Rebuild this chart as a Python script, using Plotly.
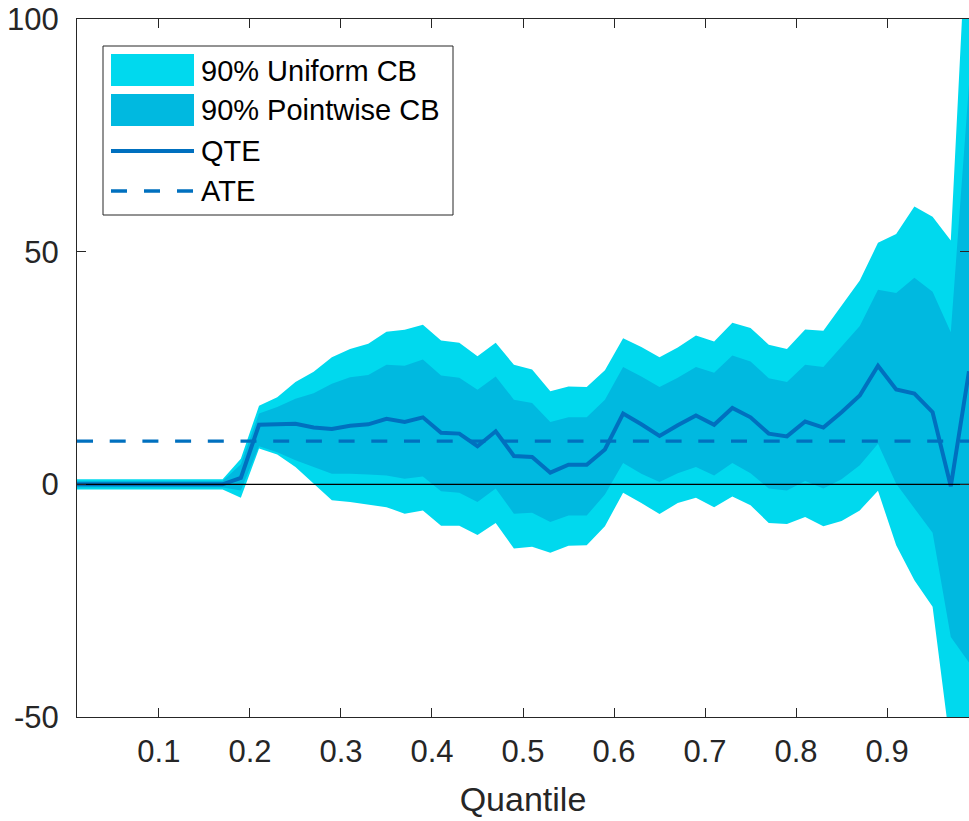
import plotly.graph_objects as go

# Quantile grid
quantiles = [0.01, 0.03, 0.05, 0.07, 0.09, 0.11, 0.13, 0.15, 0.17, 0.19,
             0.21, 0.23, 0.25, 0.27, 0.29, 0.31, 0.33, 0.35, 0.37, 0.39,
             0.41, 0.43, 0.45, 0.47, 0.49, 0.51, 0.53, 0.55, 0.57, 0.59,
             0.61, 0.63, 0.65, 0.67, 0.69, 0.71, 0.73, 0.75, 0.77, 0.79,
             0.81, 0.83, 0.85, 0.87, 0.89, 0.91, 0.93, 0.95, 0.97, 0.99]

# Quantile treatment effect estimates
qte = [0, 0, 0, 0, 0, 0, 0, 0, 0, 1.4,
       12.8, 12.9, 13.0, 12.2, 11.9, 12.6, 12.9, 14.1, 13.4, 14.4,
       11.1, 10.9, 8.2, 11.4, 6.1, 5.9, 2.5, 4.2, 4.2, 7.5,
       15.2, 12.9, 10.4, 12.7, 14.8, 12.8, 16.4, 14.4, 10.9, 10.3,
       13.5, 12.2, 15.5, 19.1, 25.5, 20.4, 19.5, 15.5, -0.4, 24.3]

# 90% pointwise confidence band
pw_lower = [-0.7, -0.7, -0.7, -0.7, -0.7, -0.7, -0.7, -0.7, -0.7, -1.3,
            8.2, 6.9, 5.2, 3.7, 2.3, 2.3, 2.1, 1.9, 1.2, 1.7,
            -1.5, -1.8, -3.8, -0.9, -6.3, -6.1, -8.1, -6.7, -6.7, -2.2,
            4.6, 2.3, 0.5, 2.4, 3.7, 1.9, 4.6, 2.4, -0.9, -1.3,
            0.7, -0.9, 1.1, 4.1, 8.7, 0.1, -5.2, -10.4, -32.8, -38.3]
pw_upper = [0.7, 0.7, 0.7, 0.7, 0.7, 0.7, 0.7, 0.7, 0.7, 4.3,
            15.2, 16.6, 18.4, 19.6, 21.6, 23.0, 23.5, 25.7, 25.5, 26.8,
            23.4, 22.9, 20.3, 23.2, 18.2, 17.5, 13.4, 14.4, 14.4, 18.2,
            25.2, 23.2, 20.9, 22.9, 25.2, 24.0, 27.7, 26.4, 22.8, 22.0,
            25.7, 25.2, 29.7, 34.0, 41.8, 41.1, 44.4, 41.4, 32.7, 86.0]

# 90% uniform confidence band
un_lower = [-1.1, -1.1, -1.1, -1.1, -1.1, -1.1, -1.1, -1.1, -1.1, -2.9,
            7.7, 6.4, 3.7, 0.1, -3.4, -3.8, -4.3, -4.9, -6.3, -5.6,
            -8.9, -8.9, -10.9, -8.3, -13.8, -13.4, -14.7, -13.2, -13.1, -9.0,
            -1.8, -4.0, -6.4, -4.0, -2.9, -4.9, -2.6, -4.5, -8.3, -8.5,
            -7.0, -9.0, -7.9, -5.6, -1.4, -13.1, -20.6, -26.3, -57.0, -82.0]
un_upper = [1.1, 1.1, 1.1, 1.1, 1.1, 1.1, 1.1, 1.1, 1.1, 5.5,
            16.9, 18.7, 22.0, 24.2, 27.3, 29.1, 30.2, 32.8, 33.2, 34.3,
            30.9, 30.4, 27.5, 30.4, 25.7, 24.7, 20.0, 21.0, 20.9, 24.5,
            31.4, 29.5, 27.3, 29.4, 32.0, 30.7, 34.7, 33.6, 30.0, 29.1,
            33.3, 33.0, 38.4, 43.8, 51.9, 53.8, 59.7, 57.5, 52.4, 130.0]

# Average treatment effect
ate = 9.3

y_ticks = [-50, 0, 50, 100]
y_tick_text = ["-50", "0", "50", "100"]
x_ticks = [0.1, 0.2, 0.3, 0.4, 0.5, 0.6, 0.7, 0.8, 0.9]

legend_labels = ["90% Uniform CB", "90% Pointwise CB", "QTE", "ATE"]

UNIFORM_COLOR = "#00D9EE"
POINTWISE_COLOR = "#00B9E0"
LINE_COLOR = "#0070BF"
AXIS_COLOR = "#262626"
FONT = "Liberation Sans, Arial, sans-serif"

fig = go.Figure()


def band(lower, upper, color):
    return go.Scatter(
        x=quantiles + quantiles[::-1],
        y=upper + lower[::-1],
        fill="toself",
        fillcolor=color,
        line=dict(width=0, color=color),
        mode="lines",
        hoverinfo="skip",
        showlegend=False,
    )


fig.add_trace(band(un_lower, un_upper, UNIFORM_COLOR))
fig.add_trace(band(pw_lower, pw_upper, POINTWISE_COLOR))

fig.add_trace(go.Scatter(
    x=quantiles, y=qte, mode="lines",
    line=dict(color=LINE_COLOR, width=4),
    showlegend=False,
))

fig.add_trace(go.Scatter(
    x=[quantiles[0], quantiles[-1]], y=[ate, ate], mode="lines",
    line=dict(color=LINE_COLOR, width=3.3, dash="16px,16.7px"),
    showlegend=False,
))

# zero reference line
fig.add_trace(go.Scatter(
    x=[quantiles[0], quantiles[-1]], y=[0, 0], mode="lines",
    line=dict(color="black", width=1.2),
    showlegend=False,
))

# ---- hand-built legend box (pixel positions converted to paper units) ----
W, H = 969, 821
ML, MR, MT, MB = 77, 0, 19, 104
PW_, PH_ = W - ML - MR, H - MT - MB


def px(x):
    return (x - ML) / PW_


def py(y):
    return (H - MB - y) / PH_


shapes = [
    dict(type="rect", xref="paper", yref="paper",
         x0=px(103), x1=px(453), y0=py(215), y1=py(46),
         line=dict(color="#262626", width=1), fillcolor="white", layer="above"),
    dict(type="rect", xref="paper", yref="paper",
         x0=px(111), x1=px(194), y0=py(86), y1=py(54),
         line=dict(width=0), fillcolor=UNIFORM_COLOR, layer="above"),
    dict(type="rect", xref="paper", yref="paper",
         x0=px(111), x1=px(194), y0=py(126), y1=py(94),
         line=dict(width=0), fillcolor=POINTWISE_COLOR, layer="above"),
    dict(type="line", xref="paper", yref="paper",
         x0=px(111), x1=px(194), y0=py(151), y1=py(151),
         line=dict(color=LINE_COLOR, width=4), layer="above"),
    dict(type="line", xref="paper", yref="paper",
         x0=px(111), x1=px(194), y0=py(191), y1=py(191),
         line=dict(color=LINE_COLOR, width=3.3, dash="16px,17px"), layer="above"),
]

annotations = []
for label, ypix in zip(legend_labels, [71, 110, 151, 191]):
    annotations.append(dict(
        xref="paper", yref="paper", x=px(199), y=py(ypix),
        xanchor="left", yanchor="middle", showarrow=False,
        text=label, font=dict(family=FONT, size=29, color="black"),
    ))

fig.update_layout(
    width=W, height=H,
    margin=dict(l=ML, r=MR, t=MT, b=MB, pad=0),
    paper_bgcolor="white", plot_bgcolor="white",
    font=dict(family=FONT, color=AXIS_COLOR),
    shapes=shapes, annotations=annotations,
    showlegend=False,
    xaxis=dict(
        range=[0.01, 0.99], tickvals=x_ticks, tickformat=".1f",
        ticks="inside", ticklen=9, tickwidth=1, tickcolor=AXIS_COLOR,
        showline=True, linecolor=AXIS_COLOR, linewidth=1, mirror="ticks",
        showgrid=False, zeroline=False,
        tickfont=dict(family=FONT, size=31, color=AXIS_COLOR),
        ticklabelstandoff=7,
        title=dict(text="Quantile", standoff=18,
                   font=dict(family=FONT, size=34, color=AXIS_COLOR)),
    ),
    yaxis=dict(
        range=[-50, 100], tickvals=y_ticks, ticktext=y_tick_text,
        ticks="inside", ticklen=9, tickwidth=1, tickcolor=AXIS_COLOR,
        showline=True, linecolor=AXIS_COLOR, linewidth=1, mirror="ticks",
        showgrid=False, zeroline=False,
        tickfont=dict(family=FONT, size=31, color=AXIS_COLOR),
        ticklabelstandoff=11,
    ),
)

fig.write_html("out.html")
